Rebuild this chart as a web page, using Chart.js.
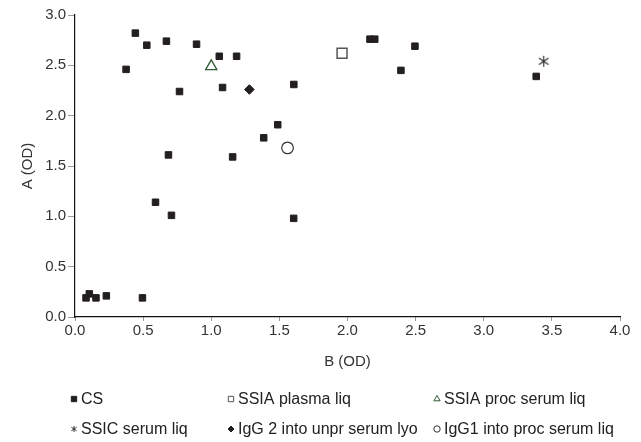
<!DOCTYPE html>
<html>
<head>
<meta charset="utf-8">
<script src="https://cdn.jsdelivr.net/npm/chart.js@4/dist/chart.umd.min.js"></script>
<style>
  html, body { margin: 0; padding: 0; background: #fff; }
  #wrap { width: 641px; height: 442px; position: relative; }
</style>
</head>
<body>
<div id="wrap"><canvas id="chart" width="641" height="442"></canvas></div>
<script>
// CS points
const csX = [0.375, 0.443, 0.527, 0.671, 0.892, 1.059, 1.186, 0.767, 1.083, 1.606, 1.488, 1.385, 0.686, 1.157,
             2.165, 2.200, 2.495, 2.392, 3.385, 0.591, 0.708, 1.605, 0.081, 0.105, 0.154, 0.230, 0.495];
const csY = [2.46, 2.82, 2.70, 2.74, 2.71, 2.59, 2.59, 2.24, 2.28, 2.31, 1.91, 1.78, 1.61, 1.59,
             2.76, 2.76, 2.69, 2.45, 2.39, 1.14, 1.01, 0.98, 0.19, 0.23, 0.19, 0.21, 0.19];

// single reference samples
const refLabels = ['SSIA plasma liq', 'SSIA proc serum liq', 'SSIC serum liq',
                   'IgG 2 into unpr serum lyo', 'IgG1 into proc serum liq'];
const refX = [1.96, 1.00, 3.44, 1.28, 1.56];
const refY = [2.62, 2.49, 2.54, 2.26, 1.68];

const xTicks = [0, 0.5, 1, 1.5, 2, 2.5, 3, 3.5, 4];
const yTicks = [0, 0.5, 1, 1.5, 2, 2.5, 3];

const FONT = 'Liberation Sans, Arial, sans-serif';
const INK = '#231f20';

// asterisk marker: vertical stroke plus an X
function makeAsterisk(size, color, lw) {
  const c = document.createElement('canvas');
  c.width = size; c.height = size;
  const g = c.getContext('2d');
  const h = size / 2, r = size / 2 - 1;
  g.strokeStyle = color;
  g.lineWidth = lw;
  g.beginPath();
  g.moveTo(h, h - r); g.lineTo(h, h + r);
  g.moveTo(h - r * 0.87, h - r * 0.6); g.lineTo(h + r * 0.87, h + r * 0.6);
  g.moveTo(h - r * 0.87, h + r * 0.6); g.lineTo(h + r * 0.87, h - r * 0.6);
  g.stroke();
  return c;
}
const asteriskBig = makeAsterisk(13, '#333', 1.2);
const asteriskSmall = makeAsterisk(8, '#333', 1);

const toPoints = (xs, ys) => xs.map((x, i) => ({ x: x, y: ys[i] }));

const styles = [
  { pointStyle: 'rect', radius: 4.6, bg: INK, border: INK, bw: 1, legendRadius: 3.8 },
  { pointStyle: 'rect', radius: 7, bg: '#fff', border: '#555', bw: 1.5, legendRadius: 3.8 },
  { pointStyle: 'triangle', radius: 6.5, bg: '#fff', border: '#2e5a34', bw: 1.3, legendRadius: 3.6 },
  { pointStyle: asteriskBig, legendStyle: asteriskSmall, radius: 6, bg: '#333', border: '#333', bw: 1 },
  { pointStyle: 'rectRot', radius: 4.8, bg: INK, border: INK, bw: 1, legendRadius: 3 },
  { pointStyle: 'circle', radius: 5.8, bg: '#fff', border: '#333', bw: 1.2, legendRadius: 3.2 }
];

const labels = ['CS'].concat(refLabels);
const datasets = labels.map((lab, i) => {
  const s = styles[i];
  const data = i === 0 ? toPoints(csX, csY) : [{ x: refX[i - 1], y: refY[i - 1] }];
  return {
    label: lab,
    data: data,
    pointStyle: s.pointStyle,
    pointRadius: s.radius,
    pointHoverRadius: s.radius,
    backgroundColor: s.bg,
    borderColor: s.border,
    borderWidth: s.bw
  };
});

// legend drawn in a 3-column grid under the x axis title
const gridLegend = {
  id: 'gridLegend',
  afterDraw(chart) {
    const ctx = chart.ctx;
    const colX = [74, 231, 437];
    const rowY = [399, 429];
    ctx.save();
    ctx.font = '16px ' + FONT;
    ctx.textBaseline = 'middle';
    labels.forEach((lab, i) => {
      const s = styles[i];
      const x = colX[i % 3], y = rowY[Math.floor(i / 3)];
      ctx.fillStyle = s.bg;
      ctx.strokeStyle = s.border;
      ctx.lineWidth = 1;
      if (s.legendStyle) {
        ctx.drawImage(s.legendStyle, x - 4, y - 4);
      } else {
        Chart.helpers.drawPoint(ctx, {
          pointStyle: s.pointStyle, radius: s.legendRadius, rotation: 0, borderWidth: 1
        }, x, y);
      }
      ctx.fillStyle = '#222';
      ctx.fillText(lab, x + 7, y + 1);
    });
    ctx.restore();
  }
};

new Chart(document.getElementById('chart'), {
  type: 'scatter',
  data: { datasets: datasets },
  plugins: [gridLegend],
  options: {
    responsive: false,
    animation: false,
    layout: { padding: { left: 0, right: 21, top: 15, bottom: 70 } },
    plugins: { legend: { display: false }, tooltip: { enabled: false } },
    scales: {
      x: {
        type: 'linear', min: 0, max: 4,
        afterBuildTicks: (axis) => { axis.ticks = xTicks.map(v => ({ value: v })); },
        afterFit: (axis) => { axis.height = 55; },
        ticks: { font: { family: FONT, size: 15 }, color: '#333', padding: 1,
                 callback: v => v.toFixed(1) },
        grid: { display: true, drawOnChartArea: false, tickLength: 4, color: '#999' },
        border: { display: true, color: '#111', width: 1.2 },
        title: { display: true, text: 'B (OD)', font: { family: FONT, size: 15 }, color: '#333',
                 padding: { top: 0, bottom: 1 } }
      },
      y: {
        type: 'linear', min: 0, max: 3,
        afterBuildTicks: (axis) => { axis.ticks = yTicks.map(v => ({ value: v })); },
        afterFit: (axis) => { axis.width = 75; },
        ticks: { font: { family: FONT, size: 15 }, color: '#333', padding: 2,
                 callback: v => v.toFixed(1) },
        grid: { display: true, drawOnChartArea: false, tickLength: 7, color: '#999' },
        border: { display: true, color: '#111', width: 1.2 },
        title: { display: true, text: 'A (OD)', font: { family: FONT, size: 15 }, color: '#333',
                 padding: { top: 19, bottom: 0 } }
      }
    }
  }
});
</script>
</body>
</html>
